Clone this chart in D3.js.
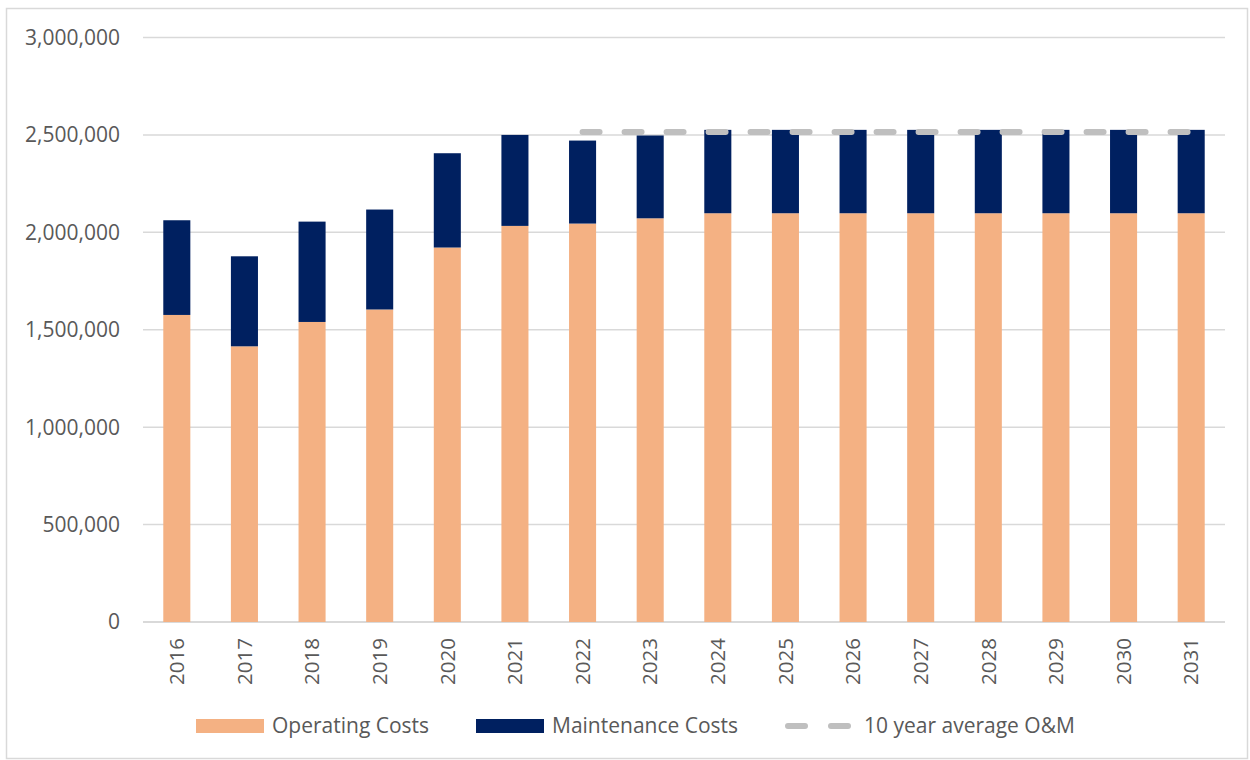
<!DOCTYPE html>
<html>
<head>
<meta charset="utf-8">
<script src="https://cdn.jsdelivr.net/npm/d3@7"></script>
<style>
  body { margin: 0; background: #fff; }
  svg { display: block; font-family: 'Open Sans', sans-serif; }
</style>
</head>
<body>
<svg width="1250" height="760"></svg>
<script>
const years = ['2016', '2017', '2018', '2019', '2020', '2021', '2022', '2023',
  '2024', '2025', '2026', '2027', '2028', '2029', '2030', '2031'];
const operating = [1576000, 1415000, 1540000, 1604000, 1922000, 2033000, 2045000, 2072000,
  2098000, 2098000, 2098000, 2098000, 2098000, 2098000, 2098000, 2098000];
const maintenance = [486000, 462000, 515000, 513000, 484000, 467000, 426000, 425000,
  428000, 428000, 428000, 428000, 428000, 428000, 428000, 428000];
const avgYears = ['2022', '2023', '2024', '2025', '2026', '2027', '2028', '2029', '2030', '2031'];
const avgValues = [2515000, 2515000, 2515000, 2515000, 2515000, 2515000, 2515000, 2515000, 2515000, 2515000];
const yTicks = [0, 500000, 1000000, 1500000, 2000000, 2500000, 3000000];
const seriesNames = ['Operating Costs', 'Maintenance Costs', '10 year average O&M'];

const colors = { op: '#F4B183', mt: '#002060', avg: '#BFBFBF', grid: '#D9D9D9', text: '#595959' };

const svg = d3.select('svg');
const width = +svg.attr('width');
const height = +svg.attr('height');

// outer frame
svg.append('rect')
  .attr('x', 6.5).attr('y', 8.5)
  .attr('width', width - 9).attr('height', height - 10)
  .attr('fill', 'none').attr('stroke', colors.grid).attr('stroke-width', 1.5);

const plot = { left: 143, right: 1225, top: 37.5, bottom: 622 };

const x = d3.scaleBand().domain(years).range([plot.left, plot.right]).paddingInner(0.6).paddingOuter(0.3);
const y = d3.scaleLinear().domain([0, 3000000]).range([plot.bottom, plot.top]);

// gridlines
svg.append('g')
  .selectAll('line')
  .data(yTicks)
  .enter()
  .append('line')
  .attr('x1', plot.left).attr('x2', plot.right)
  .attr('y1', (d) => y(d)).attr('y2', (d) => y(d))
  .attr('stroke', colors.grid)
  .attr('stroke-width', (d) => (d === 0 ? 2 : 1.5));

// Y labels
const fmt = d3.format(',');
svg.append('g')
  .selectAll('text')
  .data(yTicks)
  .enter()
  .append('text')
  .attr('x', 120)
  .attr('y', (d) => y(d))
  .attr('dy', '0.35em')
  .attr('text-anchor', 'end')
  .attr('font-size', 21)
  .attr('fill', colors.text)
  .text((d) => fmt(d));

// stacked bars
const rows = years.map((yr, i) => ({ year: yr, op: operating[i], mt: maintenance[i] }));
const stack = d3.stack().keys(['op', 'mt'])(rows);

svg.append('g')
  .selectAll('g')
  .data(stack)
  .enter()
  .append('g')
  .attr('fill', (s) => colors[s.key])
  .selectAll('rect')
  .data((s) => s)
  .enter()
  .append('rect')
  .attr('x', (d) => x(d.data.year))
  .attr('width', x.bandwidth())
  .attr('y', (d) => y(d[1]))
  .attr('height', (d) => y(d[0]) - y(d[1]));

// average line
const avgLine = d3.line()
  .x((d, i) => x(avgYears[i]) + x.bandwidth() / 2)
  .y((d) => y(d));

svg.append('path')
  .datum(avgValues)
  .attr('fill', 'none')
  .attr('stroke', colors.avg)
  .attr('stroke-width', 6)
  .attr('stroke-linecap', 'round')
  .attr('stroke-dasharray', '17,25')
  .attr('d', avgLine);

// X labels
svg.append('g')
  .selectAll('text')
  .data(years)
  .enter()
  .append('text')
  .attr('transform', (d) => `translate(${x(d) + x.bandwidth() / 2},638) rotate(-90)`)
  .attr('dy', '0.35em')
  .attr('text-anchor', 'end')
  .attr('font-size', 20.5)
  .attr('fill', colors.text)
  .text((d) => d);

// legend
const lg = svg.append('g').attr('font-size', 21).attr('fill', colors.text);
lg.append('rect').attr('x', 196).attr('y', 719).attr('width', 68).attr('height', 14).attr('fill', colors.op);
lg.append('text').attr('x', 272).attr('y', 726).attr('dy', '0.35em').text(seriesNames[0]);
lg.append('rect').attr('x', 476).attr('y', 719).attr('width', 68).attr('height', 14).attr('fill', colors.mt);
lg.append('text').attr('x', 552).attr('y', 726).attr('dy', '0.35em').text(seriesNames[1]);
lg.append('line')
  .attr('x1', 788).attr('x2', 848).attr('y1', 726).attr('y2', 726)
  .attr('stroke', colors.avg).attr('stroke-width', 6)
  .attr('stroke-linecap', 'round').attr('stroke-dasharray', '17,26');
lg.append('text').attr('x', 864).attr('y', 726).attr('dy', '0.35em').text(seriesNames[2]);
</script>
</body>
</html>
